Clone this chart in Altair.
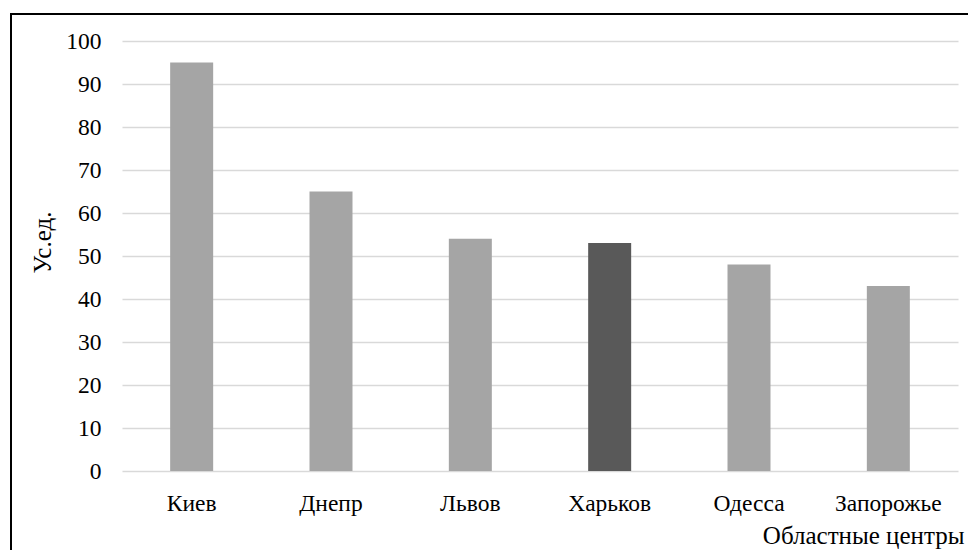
import altair as alt
import pandas as pd

cities = ["Киев", "Днепр", "Львов", "Харьков", "Одесса", "Запорожье"]
values = [95, 65, 54, 53, 48, 43]
highlight = ["Харьков"]

df = pd.DataFrame({"city": cities, "value": values,
                   "hl": ["yes" if c in highlight else "no" for c in cities]})

FONT = "Liberation Serif"

bars = alt.Chart(df).mark_bar(size=43).encode(
    x=alt.X("city:N", sort=cities,
            scale=alt.Scale(paddingInner=0.0, paddingOuter=0.0),
            axis=alt.Axis(title="Областные центры", labelAngle=0, labelPadding=20,
                          domain=False, ticks=False, grid=False,
                          titleX=842, titleY=64, titleAlign="right", titleBaseline="middle",
                          titleFontWeight="normal")),
    y=alt.Y("value:Q", scale=alt.Scale(domain=[0, 100], nice=False),
            axis=alt.Axis(title="Ус.ед.", values=list(range(0, 101, 10)), labelPadding=21,
                          domain=False, ticks=False, grid=True, gridColor="#D9D9D9",
                          gridWidth=1.5,
                          titleX=-80, titleY=201, titleAngle=270, titleAlign="center",
                          titleBaseline="middle", titleFontWeight="normal")),
    color=alt.Color("hl:N", scale=alt.Scale(domain=["no", "yes"], range=["#A5A5A5", "#595959"]),
                    legend=None),
)

left_edge = alt.Chart(df).mark_rule(stroke="black", strokeWidth=2).encode(
    x=alt.value(-111), y=alt.value(-28), y2=alt.value(520)
)
top_edge = alt.Chart(df).mark_rule(stroke="black", strokeWidth=2).encode(
    x=alt.value(-112), x2=alt.value(900), y=alt.value(-27)
)

chart = alt.layer(bars, left_edge, top_edge).properties(
    width=836, height=430,
    background="white",
    autosize=alt.AutoSizeParams(type="none"),
    padding={"left": 114, "top": 33, "right": 10, "bottom": 79},
).configure_view(stroke=None).configure_axis(
    labelFont=FONT, titleFont=FONT, labelFontSize=23.5, titleFontSize=25,
    labelColor="black", titleColor="black",
)

chart.save("out.html", embed_options={"renderer": "svg", "actions": False})
